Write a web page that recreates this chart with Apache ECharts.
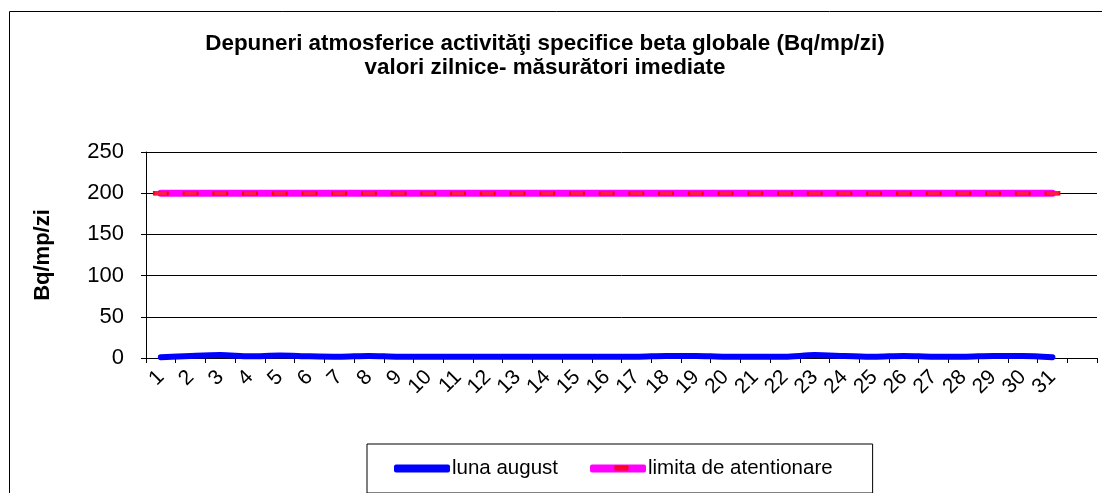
<!DOCTYPE html>
<html>
<head>
<meta charset="utf-8">
<script src="https://cdn.jsdelivr.net/npm/echarts@6/dist/echarts.min.js"></script>
<style>
html,body{margin:0;padding:0;background:#fff;}
#c{width:1102px;height:493px;}
</style>
</head>
<body>
<div id="c"></div>
<script>
const days = ['1','2','3','4','5','6','7','8','9','10','11','12','13','14','15','16','17','18','19','20','21','22','23','24','25','26','27','28','29','30','31'];
const tickLabels = days.concat(['']);
const lunaAugust = [1, 2.5, 3.5, 2, 3, 2, 1.5, 2.5, 1.5, 1.5, 1.5, 1.5, 1.5, 1.5, 1.5, 1.5, 1.5, 2.5, 2.5, 1.5, 1.5, 1.5, 3.5, 2.5, 1.5, 2.5, 1.5, 1.5, 2.5, 2.5, 1];
const limita = [200,200,200,200,200,200,200,200,200,200,200,200,200,200,200,200,200,200,200,200,200,200,200,200,200,200,200,200,200,200,200];
const yTicks = [0, 50, 100, 150, 200, 250];
const titleLines = ['Depuneri atmosferice activităţi specifice beta globale (Bq/mp/zi)', 'valori zilnice- măsurători imediate'];

const chart = echarts.init(document.getElementById('c'), null, {renderer: 'canvas'});
const font = 'Liberation Sans, Arial, sans-serif';
chart.setOption({
  backgroundColor: '#fff',
  animation: false,
  textStyle: {fontFamily: font, color: '#000'},
  title: {
    text: titleLines.join('\n'),
    left: 540, top: 27, textAlign: 'center',
    textStyle: {fontFamily: font, fontSize: 22.4, fontWeight: 'bold', color: '#000', lineHeight: 24}
  },
  grid: {left: 146, right: 5, top: 152, bottom: 135, containLabel: false},
  legend: {
    left: 367, top: 444,
    padding: [14, 40, 14, 27],
    borderColor: '#000', borderWidth: 1,
    itemGap: 32, itemWidth: 56, itemHeight: 8,
    textStyle: {fontFamily: font, fontSize: 20.5, color: '#000', padding: [0,0,0,-3]},
    data: [
      {name: 'luna august', icon: 'roundRect', itemStyle: {color: '#0000FF', borderWidth: 0}},
      {name: 'limita de atentionare', icon: 'roundRect', itemStyle: {color: '#FF00FF', borderWidth: 0}}
    ]
  },
  xAxis: {
    type: 'category',
    data: tickLabels,
    boundaryGap: true,
    axisLine: {lineStyle: {color: '#000', width: 1}},
    axisTick: {show: true, alignWithLabel: false, length: 5, lineStyle: {color: '#000'}},
    axisLabel: {rotate: 45, interval: 0, fontSize: 21, color: '#000', fontFamily: font, margin: 16},
    splitLine: {show: false}
  },
  yAxis: {
    type: 'value',
    min: 0, max: 250, interval: 50,
    name: 'Bq/mp/zi',
    nameLocation: 'middle',
    nameGap: 92,
    nameMoveOverlap: false,
    nameTextStyle: {fontFamily: font, fontSize: 22, fontWeight: 'bold', color: '#000'},
    axisLine: {show: true, lineStyle: {color: '#000', width: 1}},
    axisTick: {show: true, length: 5, lineStyle: {color: '#000'}},
    axisLabel: {fontSize: 22, color: '#000', fontFamily: font, margin: 22,
      formatter: v => yTicks.includes(v) ? String(v) : ''},
    splitLine: {show: true, lineStyle: {color: '#000', width: 1}}
  },
  graphic: [
    {type: 'rect', shape: {x: 9.5, y: 11.5, width: 1200, height: 600}, style: {fill: 'none', stroke: '#000', lineWidth: 1}, z: -1, silent: true},
    {type: 'rect', shape: {x: 615, y: 466, width: 13, height: 4}, style: {fill: '#FF0033', stroke: '#FF0000', lineWidth: 1}, z: 100, silent: true}
  ],
  series: [
    {
      name: 'luna august', type: 'line', data: lunaAugust,
      symbol: 'none', smooth: 0.3,
      lineStyle: {color: '#0000FF', width: 6, cap: 'round'},
      itemStyle: {color: '#0000FF'}, z: 3
    },
    {
      name: 'limita de atentionare', type: 'line', data: limita,
      symbol: 'rect', symbolSize: [14, 4], showSymbol: true,
      lineStyle: {color: '#FF00FF', width: 7, cap: 'round'},
      itemStyle: {color: '#FF1A4A', borderColor: '#FF0000', borderWidth: 1}, z: 4
    }
  ]
});
</script>
</body>
</html>
